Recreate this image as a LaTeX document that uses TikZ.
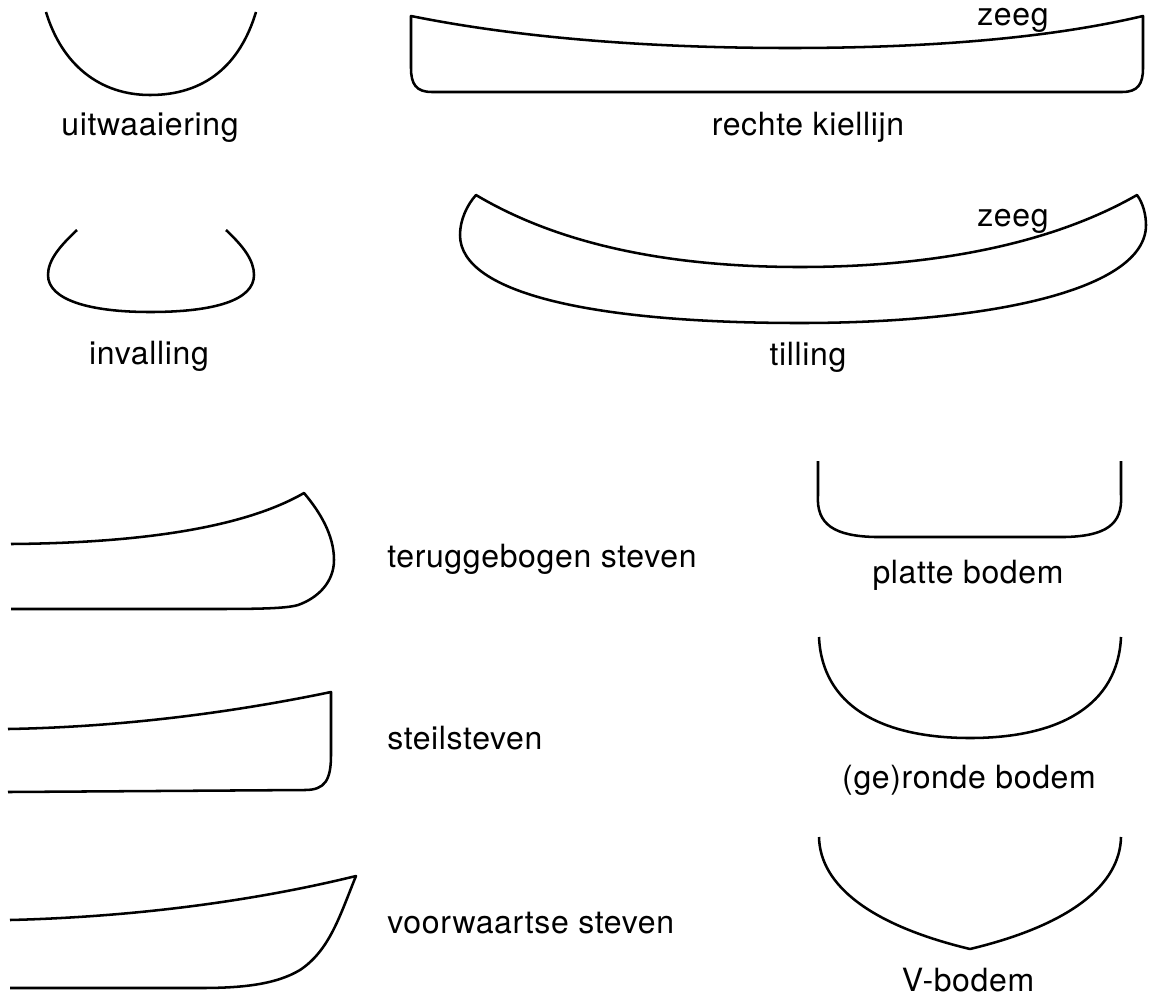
\documentclass[tikz,border=0pt]{standalone}
\usepackage{fontspec}
\setmainfont[LetterSpace=2]{TeX Gyre Heros}
\usetikzlibrary{positioning}
\begin{document}
\begin{tikzpicture}[
    x=0.75pt, y=-0.75pt,
    hull/.style={draw, line width=1.9pt, line join=round},
    lbl/.style={font=\fontsize{24}{28}\selectfont, inner sep=0pt, anchor=base}
]
\useasboundingbox (0,0) rectangle (1168,997);
% doorsneden boven
\draw [hull] (46,12) .. controls (62,65) and (100,95) .. (150,95) .. controls (205,95) and (240,65) .. (256,12);
\draw [hull] (77,230) .. controls (60,246) and (48,260) .. (48,275) .. controls (48,300) and (90,312) .. (150,312) .. controls (215,312) and (254,300) .. (254,275) .. controls (254,260) and (243,246) .. (226,230);
% zijaanzichten
\draw [hull] (411,16) .. controls (520,38) and (650,48) .. (790,48) .. controls (930,48) and (1050,38) .. (1143,16) -- (1143,68) .. controls (1143,84) and (1138,92) .. (1122,92) -- (432,92) .. controls (416,92) and (411,84) .. (411,68) -- cycle;
\draw [hull] (476,195) .. controls (560,245) and (670,267) .. (800,267) .. controls (930,267) and (1050,245) .. (1137,195) .. controls (1143,203) and (1146,215) .. (1146,225) .. controls (1146,290) and (990,323) .. (800,323) .. controls (600,323) and (460,295) .. (460,235) .. controls (460,220) and (467,205) .. (476,195) -- cycle;
% stevens
\draw [hull] (11,544) .. controls (130,543) and (240,530) .. (304,493) .. controls (320,512) and (334,535) .. (334,560) .. controls (334,582) and (318,598) .. (298,605) .. controls (285,609) and (250,609) .. (200,609) -- (11,609);
\draw [hull] (8,729) .. controls (120,727) and (230,713) .. (331,692) -- (331,755) .. controls (331,780) and (325,790) .. (305,790) -- (8,792);
\draw [hull] (10,920) .. controls (130,917) and (250,902) .. (356,876) .. controls (340,915) and (330,950) .. (300,970) .. controls (275,985) and (240,988) .. (200,988) -- (10,988);
% bodems
\draw [hull] (818,461) -- (818,495) .. controls (816,525) and (835,536) .. (875,537) -- (1065,537) .. controls (1105,536) and (1123,525) .. (1121,495) -- (1121,461);
\draw [hull] (819,637) .. controls (822,705) and (880,738) .. (970,738) .. controls (1060,738) and (1118,705) .. (1121,637);
\draw [hull] (819,837) .. controls (820,885) and (870,925) .. (970,949) .. controls (1070,925) and (1120,885) .. (1121,837);
% teksten
\node [lbl] (uitw) at (150,135) {uitwaaiering};
\node [lbl] (rechte) at (808,135) {rechte kiellijn};
\node [lbl] (zeega) at (1013,25) {zeeg};
\node [lbl] (inval) at (149,364) {invalling};
\node [lbl] (till) at (808,365) {tilling};
\node [lbl] (zeegb) at (1013,226) {zeeg};
\node [lbl, anchor=base west] (terug) at (387,567) {teruggebogen steven};
\node [lbl, anchor=base west] (steil) at (387,749) {steilsteven};
\node [lbl, anchor=base west] (voor) at (387,933) {voorwaartse steven};
\node [lbl] (platte) at (968,583) {platte bodem};
\node [lbl] (ronde) at (969,788) {(ge)ronde bodem};
\node [lbl] (vbodem) at (968,991) {V-bodem};
\end{tikzpicture}
\end{document}
